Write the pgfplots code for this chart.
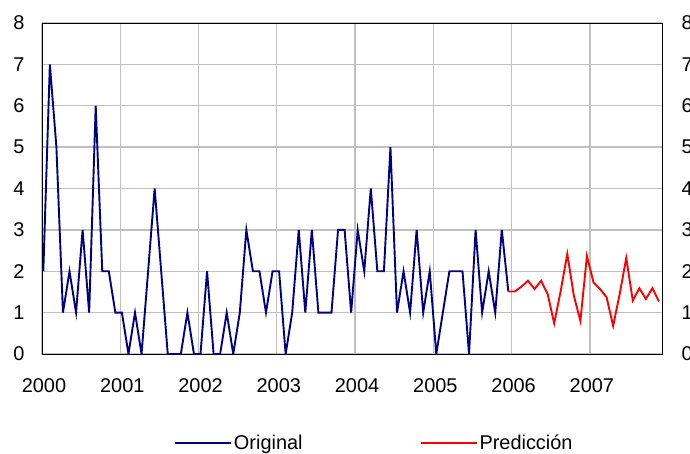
\documentclass[border=0pt]{standalone}
\usepackage{fontspec}
\setmainfont{Liberation Sans}
\usepackage{pgfplots}
\pgfplotsset{compat=1.18}
\definecolor{navyblue}{HTML}{000080}
\definecolor{gridgray}{HTML}{C0C0C0}
\begin{document}%
\begin{tikzpicture}[x=1bp,y=1bp,font=\fontsize{20}{23}\selectfont]
\begin{axis}[
  name=main, at={(0,0)}, anchor=south west, scale only axis,
  width=620bp, height=331bp,
  xmin=-0.2, xmax=94.46, ymin=0, ymax=8,
  xtick={-0.2,11.75,23.7,35.65,47.6,59.55,71.5,83.45},
  xticklabels={2000,2001,2002,2003,2004,2005,2006,2007},
  ytick={0,1,...,8},
  grid=major, major grid style={gridgray, line width=1.3bp},
  major tick length=0pt,
  axis line style={black, line width=0.9bp},
  tick label style={font=\fontsize{20}{23}\selectfont},
  /pgf/number format/assume math mode=true,
  xticklabel style={yshift=-21bp, xshift=2bp},
  yticklabel style={xshift=-14bp},
  legend style={at={(0.536,-0.269)}, anchor=center, draw=none, fill=none,
    font=\fontsize{20}{23}\selectfont, legend columns=2,
    /tikz/every even column/.append style={column sep=115bp}},
  legend cell align=left,
  legend image code/.code={\draw[#1] (0bp,0bp) -- (56bp,0bp);},
]
\addplot[navyblue, line width=1.9bp] coordinates {
(0,2)(1,7)(2,5)(3,1)(4,2)(5,1)(6,3)(7,1)(8,6)(9,2)(10,2)(11,1)
(12,1)(13,0)(14,1)(15,0)(16,2)(17,4)(18,2)(19,0)(20,0)(21,0)(22,1)(23,0)
(24,0)(25,2)(26,0)(27,0)(28,1)(29,0)(30,1)(31,3)(32,2)(33,2)(34,1)(35,2)
(36,2)(37,0)(38,1)(39,3)(40,1)(41,3)(42,1)(43,1)(44,1)(45,3)(46,3)(47,1)
(48,3)(49,2)(50,4)(51,2)(52,2)(53,5)(54,1)(55,2)(56,1)(57,3)(58,1)(59,2)
(60,0)(61,1)(62,2)(63,2)(64,2)(65,0)(66,3)(67,1)(68,2)(69,1)(70,3)(71,1.51)
};
\addlegendentry{Original}
\addplot[red, line width=1.9bp] coordinates {
(71,1.51)(72,1.51)(73,1.63)(74,1.77)(75,1.57)(76,1.77)(77,1.45)(78,0.74)
(79,1.53)(80,2.42)(81,1.41)(82,0.80)(83,2.37)(84,1.73)(85,1.57)(86,1.37)
(87,0.68)(88,1.45)(89,2.32)(90,1.29)(91,1.59)(92,1.33)(93,1.59)(94,1.27)
};
\addlegendentry{Predicción}
\end{axis}
\begin{axis}[
  at={(0,0)}, anchor=south west, scale only axis,
  width=620bp, height=331bp,
  xmin=-0.2, xmax=94.46, ymin=0, ymax=8,
  hide x axis, axis y line*=right,
  ytick={0,1,...,8},
  major tick length=0pt,
  axis line style={black, line width=0.9bp},
  tick label style={font=\fontsize{20}{23}\selectfont},
  /pgf/number format/assume math mode=true,
  yticklabel style={xshift=16bp},
]
\addplot[draw=none] coordinates {(0,0)};
\end{axis}
\pgfresetboundingbox
\path (main.south west) ++(-42bp,-100bp) rectangle ++(690bp,454bp);
\end{tikzpicture}%
\end{document}
